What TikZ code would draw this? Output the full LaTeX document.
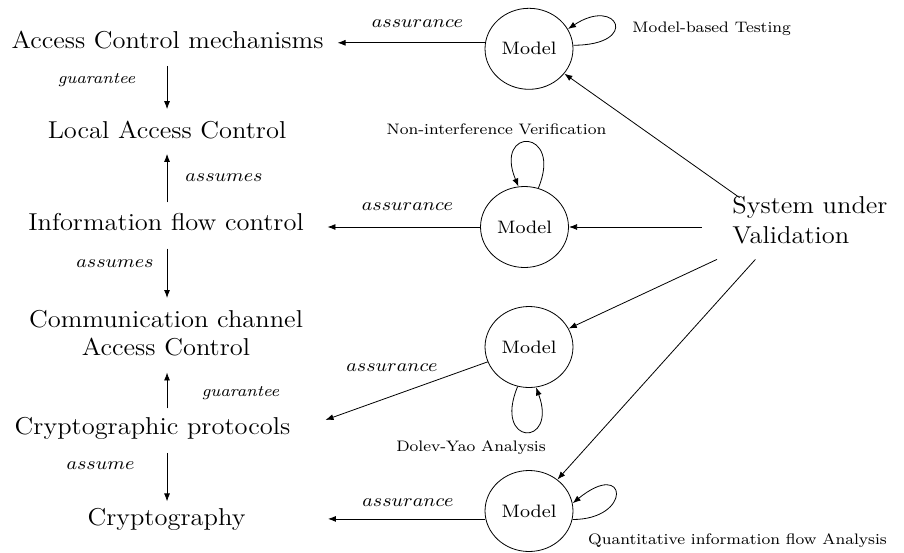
\documentclass[tikz,border=0pt]{standalone}
\usetikzlibrary{arrows.meta,shapes.geometric}
\tikzset{
  lefttext/.style={font=\fontsize{12.2pt}{14pt}\selectfont, inner sep=0pt},
  model/.style={circle, draw, minimum size=40.5pt, inner sep=0pt, font=\small},
  lab/.style={font=\fontsize{7.6pt}{9pt}\selectfont, inner sep=0pt},
  rel/.style={font=\footnotesize\itshape, inner sep=0pt},
  mrel/.style={font=\fontsize{9.3pt}{11pt}\selectfont, inner sep=0pt},
  arr/.style={-{Latex[length=4pt,width=3pt]}},
}
\begin{document}
\begin{tikzpicture}[x=0.46041pt, y=-0.5pt, xscale=1.086, every node/.append style={transform shape}]
\useasboundingbox (0,0) rectangle (904,552);
% left column
\node[lefttext, anchor=base, minimum width=156.1pt] (acm) at (167.5,48) {Access Control mechanisms};
\node[lefttext, anchor=base] (lac) at (167,138) {Local Access Control};
\node[lefttext, anchor=base, minimum width=148.2pt] (ifc) at (166,230) {Information flow control};
\node[lefttext, anchor=north, align=center] (ccac) at (166,310) {Communication channel\\Access Control};
\node[lefttext, anchor=base, minimum width=158.8pt] (cp) at (152.5,434) {Cryptographic protocols};
\node[lefttext, anchor=base, minimum width=148.2pt] (cr) at (166.5,525) {Cryptography};
% models
\node[model] (m1) at (529,48.8) {Model};
\node[model] (m2) at (524.5,227) {Model};
\node[model] (m3) at (529,347) {Model};
\node[model] (m4) at (529,511) {Model};
% system under validation
\node[minimum width=74.6pt, minimum height=30.5pt, inner sep=0pt] (suv) at (783,228.5) {};
\node[font=\fontsize{12.2pt}{15pt}\selectfont, inner sep=0pt, align=left, anchor=north west] (suvtext) at (732,196) {System under\\Validation};
% relation labels
\node[rel] (g1) at (96.5,80) {guarantee};
\node[mrel] (as1) at (224,178) {$assumes$};
\node[mrel] (as2) at (115,264) {$assumes$};
\node[rel] (g2) at (240.5,393) {guarantee};
\node[mrel] (as3) at (100.5,466) {$assume$};
\node[mrel] (a1) at (417.5,24) {$assurance$};
\node[mrel] (a2) at (407.5,207) {$assurance$};
\node[mrel] (a3) at (392,368) {$assurance$};
\node[mrel] (a4) at (408,503) {$assurance$};
% loop labels
\node[lab, anchor=west] (t1) at (632,29) {Model-based Testing};
\node[lab] (t2) at (496.5,129) {Non-interference Verification};
\node[lab] (t3) at (471,448) {Dolev-Yao Analysis};
\node[lab] (t4) at (737.5,541) {Quantitative information flow Analysis};
% vertical arrows
\draw[arr, shorten <=8.5pt, shorten >=5.5pt] (acm.south -| lac.south) -- (lac.north);
\draw[arr, shorten <=5pt, shorten >=7.5pt] (ifc.north -| lac.south) -- (lac.south);
\draw[arr, shorten <=9pt, shorten >=6pt] (ifc.south -| lac.south) -- (ccac.north -| lac.south);
\draw[arr, shorten <=4pt, shorten >=8pt] (cp.north -| lac.south) -- (ccac.south -| lac.south);
\draw[arr, shorten <=6.7pt, shorten >=3pt] (cp.south -| lac.south) -- (cr.north -| lac.south);
% assurance arrows
\coordinate (a1s) at ([yshift=3pt]m1.west);
\draw[arr] (a1s) -- (a1s -| acm.east);
\draw[arr] (m2.west) -- (m2.west -| ifc.east);
\coordinate (cpin) at ([yshift=4pt]cp.east);
\draw[arr] (m3) -- (cpin);
\draw[arr] (m4.west |- cr.east) -- (cr.east);
% from system under validation
\draw[arr] (suv) -- (m1);
\draw[arr] (suv.west |- m2.east) -- (m2.east);
\draw[arr] (suv) -- (m3);
\draw[arr] (suv) -- (m4);
% loops
\draw[arr] (m1.5) .. controls +(67,0) and +(50,-33) .. (m1.29);
\draw[arr] (m2.72) .. controls +(25,-60) and +(-25,-60) .. (m2.98);
\draw[arr] (m3.255) .. controls +(-25,60) and +(22,60) .. (m3.279);
\draw[arr] (m4.348) .. controls +(60,0) and +(55,-45) .. (m4.11);
\end{tikzpicture}
\end{document}
